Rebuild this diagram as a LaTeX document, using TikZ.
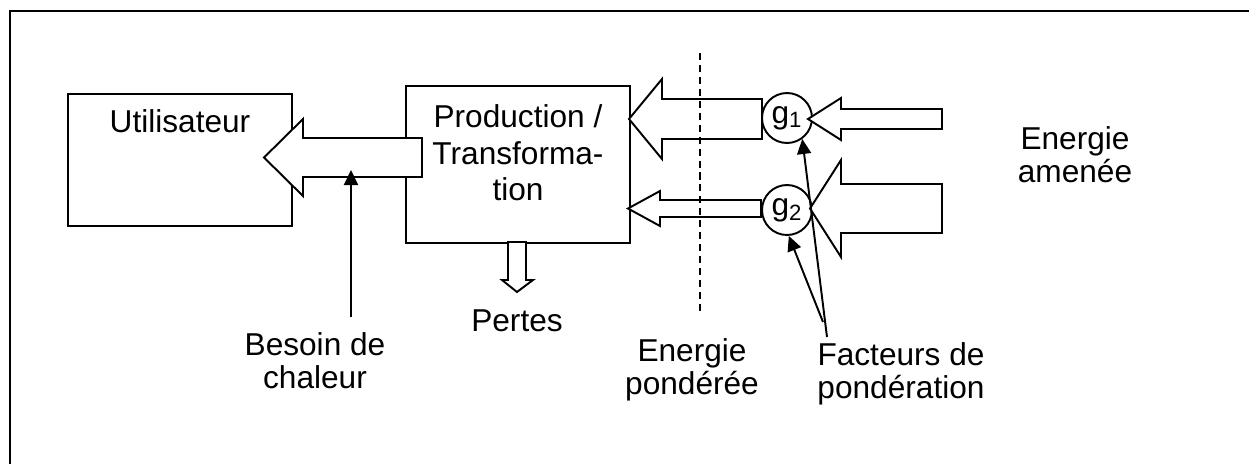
\documentclass[tikz,border=0pt]{standalone}
\usepackage{fontspec}
\setmainfont{Liberation Sans}
\usetikzlibrary{arrows.meta, positioning}
\setlength{\lineskiplimit}{-10pt}
\tikzstyle{box} = [rectangle, draw=black, line width=1.1pt, fill=white, inner sep=0pt]
\tikzstyle{gate} = [circle, draw=black, line width=1.1pt, fill=white, minimum size=1cm, inner sep=0pt, font=\fontsize{18}{20}\selectfont]
\tikzstyle{txt} = [align=center, inner sep=0pt, font=\fontsize{18}{18.8}\selectfont]
\tikzstyle{hollow} = [draw=black, fill=white, line width=1.1pt, line join=miter]
\tikzstyle{pointer} = [line width=1.1pt, -{Triangle[length=0.3cm, width=0.28cm]}]

\begin{document}
\begin{tikzpicture}[x=0.02cm, y=-0.02cm]
            \useasboundingbox (0,0) rectangle (1249,464);
            % Frame
            \draw [line width=1.5pt] (10,464) -- (10,11) -- (1249,11);

            % Nodes
            \node (user) [box, minimum width=4.48cm, minimum height=2.64cm] at (180,160) {};
            \node (usertxt) [txt, below=0.32cm of user.north] {Utilisateur};
            \node (prod) [box, minimum width=4.48cm, minimum height=3.14cm] at (518,164.5) {};
            \node (prodtxt) [txt, font=\fontsize{18}{20.8}\selectfont, below=0.39cm of prod.north] {Production /\\ Transforma-\\ tion};
            \node (g1) [gate] at (787,118) {g\textsubscript{1}};
            \node (g2) [gate] at (787,210) {g\textsubscript{2}};

            \node (pertes) [txt, anchor=base] at (517,331) {Pertes};
            \node (besoin) [txt, anchor=north] at (315,332) {Besoin de\\ chaleur};
            \node (ponderee) [txt, anchor=north] at (692,338) {Energie\\ pondérée};
            \node (facteurs) [txt, anchor=north] at (901,342) {Facteurs de\\ pondération};
            \node (amenee) [txt, anchor=north] at (1075,126) {Energie\\ amenée};

            % Block arrows
            \draw [hollow] (264,157.5) -- (303,119) -- (303,138) -- (422,138) -- (422,177) -- (303,177) -- (303,196) -- cycle;
            \draw [hollow] (629,119) -- (662,79) -- (662,99) -- (762,99) -- (762,139) -- (662,139) -- (662,159) -- cycle;
            \draw [hollow] (628,208.5) -- (660,191) -- (660,200) -- (761,200) -- (761,217) -- (660,217) -- (660,226) -- cycle;
            \draw [hollow] (808,119) -- (841,98) -- (841,109) -- (942,109) -- (942,129) -- (841,129) -- (841,140) -- cycle;
            \draw [hollow] (810,208.5) -- (841,160) -- (841,184) -- (942,184) -- (942,233) -- (841,233) -- (841,257) -- cycle;
            \draw [hollow] (517,292) -- (502,280) -- (508,280) -- (508,242) -- (526,242) -- (526,280) -- (533,280) -- cycle;

            % Separation line
            \coordinate (cuttop) at (700,53);
            \coordinate (cutbot) at (700,313);
            \draw [line width=1.1pt, dash pattern=on 4pt off 2.8pt] (cuttop) -- (cutbot);

            % Pointers
            \coordinate (besoinfoot) at (351,317);
            \coordinate (besointip) at (351,170);
            \coordinate (facfoot1) at (827,337);
            \coordinate (facfoot2) at (823,322);
            \draw [pointer] (besoinfoot) -- (besointip);
            \draw [pointer] (facfoot1) -- (g1.-54);
            \draw [pointer] (facfoot2) -- (g2.-86);
        \end{tikzpicture}
\end{document}
